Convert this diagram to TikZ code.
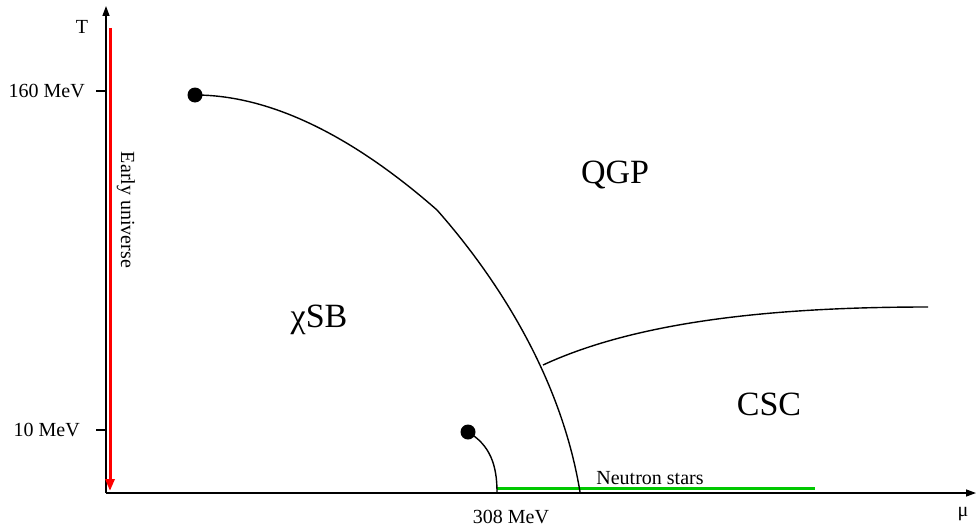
\documentclass[tikz,border=0pt]{standalone}
\usepackage{fontspec}
\setmainfont{Liberation Serif}
\usetikzlibrary{arrows.meta}
\definecolor{nsgreen}{RGB}{0,200,0}
\begin{document}
\begin{tikzpicture}[x=1pt,y=-1pt,
  axis/.style={line width=1.3pt,-{Triangle[length=10pt,width=7pt]}},
  curve/.style={line width=1.4pt},
  tick/.style={line width=1.3pt},
  dot/.style={circle,fill=black,inner sep=0pt,minimum size=15pt},
  lab/.style={inner sep=0pt,font=\fontsize{20}{24}\selectfont},
  big/.style={inner sep=0pt,font=\fontsize{34}{40}\selectfont}]
\useasboundingbox (0,0) rectangle (976,527);
% axes
\coordinate (O) at (106,493);
\coordinate (Ttop) at (106,6);
\coordinate (Mend) at (976,493);
\draw[axis] (O) -- (Ttop);
\draw[axis] (O) -- (Mend);
% ticks
\coordinate (t160) at (106,91);
\coordinate (t10) at (106,430);
\draw[tick] (t160) -- ++(-10,0);
\draw[tick] (t10) -- ++(-10,0);
% axis labels
\node[lab,anchor=east] (l160) at (85,91) {160 MeV};
\node[lab,anchor=east] (l10) at (80,430) {10 MeV};
\node[lab] (lT) at (82,27) {T};
\node[lab] (lmu) at (963,514) {μ};
\node[lab] (l308) at (511,517) {308 MeV};
% early universe
\coordinate (euTop) at (110,28);
\coordinate (euBot) at (110,491);
\draw[red,line width=3pt,-{Triangle[length=12pt,width=9pt]}] (euTop) -- (euBot);
\node[lab,rotate=-90] (eu) at (126,210) {Early universe};
% neutron stars
\coordinate (nsL) at (497,488);
\coordinate (nsR) at (815,488);
\draw[nsgreen,line width=3pt] (nsL) -- (nsR);
\node[lab] (ns) at (650,478) {Neutron stars};
% dots
\node[dot] (d1) at (195,95) {};
\node[dot] (d2) at (468,432) {};
% phase boundaries
\coordinate (kink) at (437,210);
\coordinate (foot) at (580,492);
\coordinate (junc) at (543,365);
\coordinate (cscEnd) at (928,307);
\coordinate (smallFoot) at (497,492);
\draw[curve] (d1.center) .. controls (290,95) and (380,160) .. (kink)
  .. controls (490,270) and (560,370) .. (foot);
\draw[curve] (junc) .. controls (640,320) and (780,307) .. (cscEnd);
\draw[curve] (d2.center) .. controls (490,445) and (497,465) .. (smallFoot);
% region labels
\node[big] (qgp) at (615,175) {QGP};
\node[big] (csc) at (769,404) {CSC};
\node[big] (xsb) at (319,320) {χSB};
\end{tikzpicture}
\end{document}
